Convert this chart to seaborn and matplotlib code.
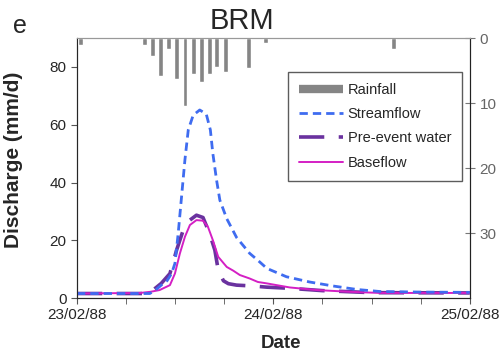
import numpy as np
import pandas as pd
import matplotlib
matplotlib.use("Agg")
import matplotlib.pyplot as plt
import seaborn as sns
from matplotlib.ticker import MultipleLocator
from matplotlib.lines import Line2D

# ---------- DATA (hours since 23/02/88 00:00) ----------
rain_hours = [0.4, 8.3, 9.2, 10.2, 11.2, 12.2, 13.2, 14.2, 15.2, 16.2, 17.1, 18.1, 21.0, 23.0, 38.7]
rain_mm = [1.0, 1.0, 2.7, 5.9, 1.7, 6.3, 10.4, 5.5, 6.8, 5.6, 4.5, 5.3, 4.6, 0.7, 1.7]

stream_hours = [0, 8.9, 9.6, 10.3, 11.0, 11.56, 11.97, 12.37, 12.78, 13.19, 13.6, 14.2, 15.0,
                15.8, 16.3, 16.6, 17.06, 17.46, 18.3, 19.5, 21.1, 22.1, 23.2, 25.6, 28.4,
                31.3, 34.2, 37.0, 42.0, 48.0]
stream_q = [1.6, 1.6, 2.8, 4.5, 6.0, 8.5, 12.0, 22.4, 35.1, 47.8, 58.2, 63.3, 65.1,
            63.7, 58.2, 50.1, 40.8, 33.9, 27.5, 21.0, 15.5, 13.1, 10.3, 7.4, 5.6,
            4.2, 3.0, 2.3, 2.1, 2.0]

pre_hours = [0, 8.9, 9.3, 10.3, 11.36, 12.17, 12.98, 13.8, 14.6, 15.4, 16.2, 16.85, 17.26,
             17.9, 18.5, 19.5, 21.5, 23.2, 26.0, 30.0, 36.0, 48.0]
pre_q = [1.6, 1.6, 2.8, 5.1, 8.5, 16.6, 23.5, 27.0, 28.7, 27.9, 22.4, 16.6, 9.7,
         6.0, 5.0, 4.5, 4.2, 3.8, 3.4, 2.6, 1.9, 1.8]

base_hours = [0, 7.7, 9.0, 10.1, 11.36, 11.97, 12.58, 13.19, 13.8, 14.6, 15.4, 16.0, 16.6,
              17.26, 18.3, 19.1, 19.9, 21.1, 22.1, 23.2, 26.0, 29.3, 33.3, 37.0, 48.0]
base_q = [1.6, 1.8, 2.2, 2.8, 4.5, 8.5, 15.5, 21.2, 25.3, 27.0, 26.8, 24.7, 20.1,
          14.3, 10.8, 9.5, 8.0, 6.8, 5.6, 5.1, 3.7, 2.8, 2.2, 1.8, 1.8]

date_ticks = [0, 24, 48]
date_labels = ["23/02/88", "24/02/88", "25/02/88"]

sns.set_style("white")
plt.rcParams['font.family'] = ['Liberation Sans', 'DejaVu Sans']

fig = plt.figure(figsize=(5.03, 3.52), dpi=100)
ax = fig.add_axes([0.153, 0.153, 0.781, 0.739])

sns.lineplot(x=pre_hours, y=pre_q, ax=ax, color="#6a329f", linewidth=2.6, zorder=2)
ax.lines[-1].set_dashes([7, 4])
sns.lineplot(x=base_hours, y=base_q, ax=ax, color="#d41fc4", linewidth=1.4, zorder=3)
sns.lineplot(x=stream_hours, y=stream_q, ax=ax, color="#3f6cf0", linewidth=2.0, zorder=4)
ax.lines[-1].set_dashes([3, 1.8])
for ln in ax.lines:
    ln.set_solid_joinstyle('round')
    ln.set_dash_joinstyle('round')

ax.set_xlim(0, 48)
ax.set_ylim(0, 90)
ax.set_xticks(date_ticks)
ax.set_xticklabels(date_labels)
ax.xaxis.set_minor_locator(MultipleLocator(6))
ax.set_yticks([0, 20, 40, 60, 80])
ax.tick_params(axis='x', which='both', direction='out', length=4, color='#555555',
               bottom=True, labelsize=11, pad=3)
ax.tick_params(axis='y', direction='out', length=4, color='#555555', left=True, labelsize=11)
ax.set_xlabel("Date", fontsize=13.5, fontweight='bold')
ax.xaxis.set_label_coords(0.519, -0.142)
ax.set_ylabel("Discharge (mm/d)", fontsize=15, fontweight='bold')
ax.yaxis.set_label_coords(-0.137, 0.531)
for s in ['left', 'bottom']:
    ax.spines[s].set_color('#333333')
ax.spines['top'].set_color('#999999')

ax2 = ax.twinx()
ax2.bar(rain_hours, rain_mm, width=0.6, color="#858585", zorder=1)
ax2.set_ylim(40, 0)
ax2.set_yticks([0, 10, 20, 30])
ax2.tick_params(axis='y', direction='inout', length=7, color='#777777', right=True,
                labelsize=11, labelcolor='#666666')
ax2.spines['right'].set_color('#222222')
ax2.spines['top'].set_color('#999999')

handles = [
    Line2D([], [], color="#858585", linewidth=6, solid_capstyle='butt'),
    Line2D([], [], color="#3f6cf0", linewidth=2.0, dashes=[3, 1.8]),
    Line2D([], [], color="#6a329f", linewidth=2.6, dashes=[7, 4]),
    Line2D([], [], color="#d41fc4", linewidth=1.4),
]
labels = ["Rainfall", "Streamflow", "Pre-event water", "Baseflow"]
leg = ax2.legend(handles, labels, loc='upper right', bbox_to_anchor=(0.98, 0.869),
                 fontsize=10.5, frameon=True, fancybox=False, handlelength=3.0,
                 handletextpad=0.3, borderpad=0.75, labelspacing=0.7, borderaxespad=0)
leg.get_frame().set_edgecolor('#333333')
leg.get_frame().set_linewidth(1.0)

fig.text(242 / 503, 1 - 29 / 352, "BRM", fontsize=21, ha='center', va='baseline')
fig.text(13 / 503, 1 - 33 / 352, "e", fontsize=18, va='baseline')

plt.savefig("out.png", dpi=100)
